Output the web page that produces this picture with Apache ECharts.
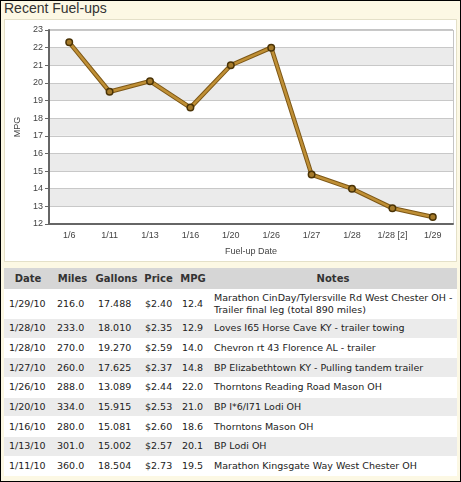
<!DOCTYPE html>
<html>
<head>
<meta charset="utf-8">
<script src="https://cdn.jsdelivr.net/npm/echarts@6/dist/echarts.min.js"></script>
<style>
  html, body { margin: 0; padding: 0; background: #fff; }
  #wrap { position: relative; width: 461px; height: 482px; box-sizing: border-box; border: 1px solid #000; background: #fcf8e4; overflow: hidden; }
  #title { position: absolute; left: 3px; top: 0; font: 14px/14px "Liberation Sans", Arial, sans-serif; color: #333; }
  #panel { position: absolute; left: 3px; top: 18px; width: 451px; height: 241px; background: #fff; border: 1px solid #e4e0c8; }
  #chart { position: absolute; left: 0; top: 0; width: 451px; height: 241px; }
  #tbl { position: absolute; left: 3px; top: 267px; width: 453px; border-collapse: collapse; font: 9.5px "DejaVu Sans", Verdana, sans-serif; color: #222; background: #fff; }
  #tbl th { background: #d6d6d6; font-weight: bold; height: 21px; padding: 0; text-align: center; font-size: 10px; color: #333; }
  #tbl td { padding: 2px 0 2px 5px; line-height: 12px; height: 14.7px; border-top: 1px solid #fff; vertical-align: middle; white-space: nowrap; }
  #tbl td.n { white-space: normal; }
  #tbl tr.g td { background: #ebebeb; }
</style>
</head>
<body>
<div id="wrap">
  <div id="title">Recent Fuel-ups</div>
  <div id="panel"><div id="chart"></div></div>
  <table id="tbl">
    <colgroup><col style="width:48px"><col style="width:41px"><col style="width:47px"><col style="width:37px"><col style="width:32px"><col></colgroup>
    <thead><tr id="hdr"></tr></thead>
    <tbody id="body"></tbody>
  </table>
</div>
<script>
// ---- chart data ----
var categories = ['1/6', '1/11', '1/13', '1/16', '1/20', '1/26', '1/27', '1/28', '1/28 [2]', '1/29'];
var mpgValues = [22.3, 19.5, 20.1, 18.6, 21.0, 22.0, 14.8, 14.0, 12.9, 12.4];
var yTicks = [12, 13, 14, 15, 16, 17, 18, 19, 20, 21, 22, 23];

// ---- table data ----
var tableHeaders = ['Date', 'Miles', 'Gallons', 'Price', 'MPG', 'Notes'];
var tDates = ['1/29/10', '1/28/10', '1/28/10', '1/27/10', '1/26/10', '1/20/10', '1/16/10', '1/13/10', '1/11/10'];
var tMiles = ['216.0', '233.0', '270.0', '260.0', '288.0', '334.0', '280.0', '301.0', '360.0'];
var tGallons = ['17.488', '18.010', '19.270', '17.625', '13.089', '15.915', '15.081', '15.002', '18.504'];
var tPrices = ['$2.40', '$2.35', '$2.59', '$2.37', '$2.44', '$2.53', '$2.60', '$2.57', '$2.73'];
var tMpg = ['12.4', '12.9', '14.0', '14.8', '22.0', '21.0', '18.6', '20.1', '19.5'];
var tNotes = [
  'Marathon CinDay/Tylersville Rd West Chester OH - Trailer final leg (total 890 miles)',
  'Loves I65 Horse Cave KY - trailer towing',
  'Chevron rt 43 Florence AL - trailer',
  'BP Elizabethtown KY - Pulling tandem trailer',
  'Thorntons Reading Road Mason OH',
  'BP I*6/I71 Lodi OH',
  'Thorntons Mason OH',
  'BP Lodi OH',
  'Marathon Kingsgate Way West Chester OH'
];

// build table
var hdr = document.getElementById('hdr');
tableHeaders.forEach(function (h) { var th = document.createElement('th'); th.textContent = h; hdr.appendChild(th); });
var body = document.getElementById('body');
for (var i = 0; i < tDates.length; i++) {
  var tr = document.createElement('tr');
  if (i % 2 === 1) tr.className = 'g';
  [tDates[i], tMiles[i], tGallons[i], tPrices[i], tMpg[i], tNotes[i]].forEach(function (v, j) {
    var td = document.createElement('td');
    td.textContent = v;
    if (j === 5) td.className = 'n';
    tr.appendChild(td);
  });
  body.appendChild(tr);
}

// chart
var chart = echarts.init(document.getElementById('chart'), null, { renderer: 'canvas' });
var lbl = { fontFamily: 'Liberation Sans, Arial, sans-serif', fontSize: 9, color: '#444' };
chart.setOption({
  animation: false,
  grid: { left: 34, top: 10, width: 414, height: 196, show: true, borderColor: '#8a8a8a', borderWidth: 1, backgroundColor: 'transparent' },
  xAxis: {
    type: 'category', data: categories, boundaryGap: true,
    name: 'Fuel-up Date', nameLocation: 'middle', nameGap: 23,
    nameTextStyle: lbl,
    axisLine: { lineStyle: { color: '#666', width: 2 } },
    axisTick: { alignWithLabel: true, length: 4, lineStyle: { color: '#666' } },
    axisLabel: Object.assign({ margin: 7 }, lbl)
  },
  yAxis: {
    type: 'value', min: yTicks[0], max: yTicks[yTicks.length - 1], interval: 1,
    name: 'MPG', nameLocation: 'middle', nameGap: 27, nameRotate: 90,
    nameTextStyle: lbl,
    axisLine: { show: true, lineStyle: { color: '#666', width: 2 } },
    axisTick: { show: true, length: 4, lineStyle: { color: '#666' } },
    axisLabel: Object.assign({ margin: 6 }, lbl),
    splitLine: { show: true, lineStyle: { color: '#c8c8c8', width: 1 } },
    splitArea: { show: true, areaStyle: { color: ['#ffffff', '#ebebeb'] } }
  },
  series: [
    {
      type: 'line', data: mpgValues, symbol: 'none', silent: true,
      lineStyle: { color: '#7d5716', width: 4.5 }, z: 2
    },
    {
      type: 'line', data: mpgValues, symbol: 'circle', symbolSize: 6.5,
      lineStyle: { color: '#bf8f35', width: 2.5 },
      itemStyle: { color: '#a57a2a', borderColor: '#4a3306', borderWidth: 1.5 },
      z: 3
    }
  ]
});
</script>
</body>
</html>
